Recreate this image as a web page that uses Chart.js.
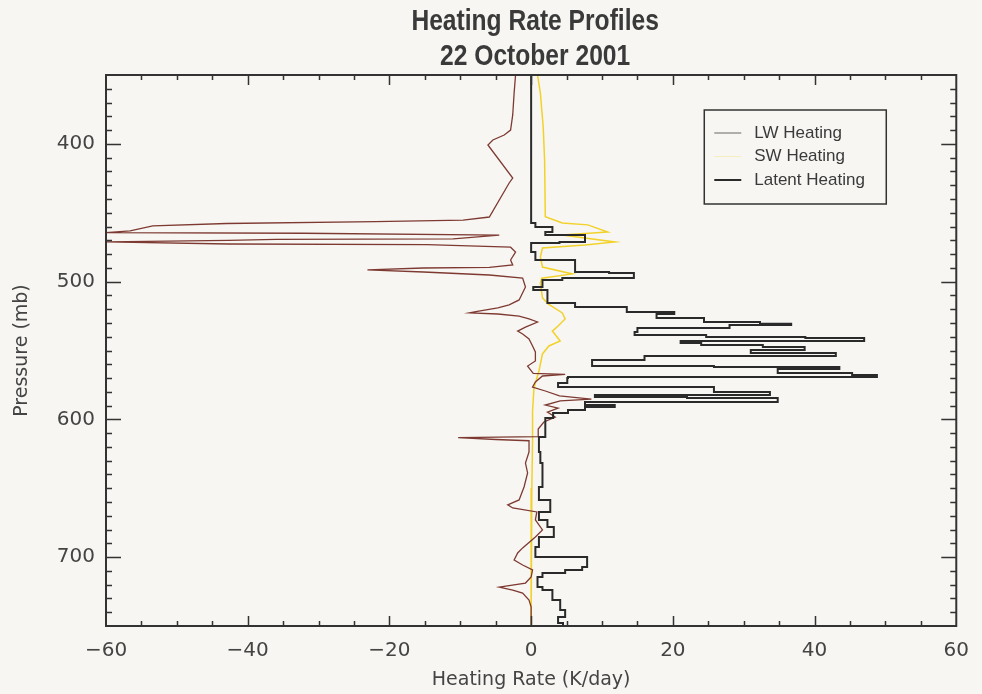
<!DOCTYPE html>
<html>
<head>
<meta charset="utf-8">
<title>Heating Rate Profiles</title>
<script src="https://cdn.jsdelivr.net/npm/chart.js@4.4.1/dist/chart.umd.min.js"></script>
<style>
  html, body { margin: 0; padding: 0; background: #f7f6f2; }
  #wrap { width: 982px; height: 694px; }
</style>
</head>
<body>
<div id="wrap"><canvas id="heatChart" width="982" height="694"></canvas></div>
<script>
// Perfiles de calentamiento, 22 Oct 2001
const titleLines = ['Heating Rate Profiles', '22 October 2001'];
const xTicks = [-60, -40, -20, 0, 20, 40, 60];
const yTicks = [400, 500, 600, 700];

const lwPressure = [350, 363, 379, 390, 393.6, 397.2, 400.8, 424.8, 428.4, 453.1, 455.3, 456.4, 457.8, 459.6,
  463.2, 464.5, 464.9, 466.2, 469, 469.4, 470, 471.2, 472.7, 473.2, 475, 478.5, 484.3, 487.9, 489.6, 490.1,
  491.5, 493, 495.2, 497.4, 503.9, 513.3, 516.9, 519.1, 521.8, 522.7, 523.5, 525, 527.1, 529.3, 533, 535.9,
  538, 541.6, 546.7, 551.1, 557.6, 561.3, 566.6, 567.3, 568.5, 572.9, 576.5, 579.4, 583, 585.3, 586.5, 589.6,
  591.8, 594.7, 598.3, 601.9, 607, 612.5, 613.2, 614.6, 615.5, 623.7, 631.7, 638.9, 649.1, 658.5, 662.1,
  664.3, 667.2, 673, 680.2, 685.4, 693.3, 697, 702.1, 705.7, 709.3, 714.4, 718.8, 721.7, 723.9, 726.1, 731.1,
  736.2, 750];
const lwRate = [-2.2, -2.4, -2.6, -2.9, -3.8, -5.4, -6.1, -2.6, -3.1, -5.9, -9.6, -22, -43, -53.4,
  -56.6, -60, -32.2, -4.5, -11, -36, -42.7, -60, -42.7, -14.7, -2.9, -2.2, -2.9, -2.6, -5.9, -15.2,
  -23.1, -15.2, -5.9, -1.2, -0.8, -1.7, -3.1, -4.7, -7.8, -8.7, -4.7, -1.7, -0.3, 0.9, -0.8, -1.9,
  -1.2, -0.3, 0.2, 0.6, 0.6, -0.5, 0.3, 4.8, 1.6, 0.6, 0.2, 2.0, 4.0, 8.5, 4.1, 2.0,
  3.8, 2.3, 3.4, 1.8, 1.0, 1.0, -10.3, -5.0, -0.3, -0.3, -0.8, -0.5, -1.0, -1.7, -3.3,
  -2.6, 0.8, 0.6, 1.6, 0.6, -1.2, -1.9, -2.4, -1.2, 0.2, 0, -0.8, -4.5, -2.6, -1.2, -0.3,
  0, 0];

const swPressure = [350, 363, 387.6, 411.5, 452.9, 457.4, 458.8, 464, 466.2, 471.2, 473.4, 475.6, 482.1,
  489.4, 494.4, 497.5, 501, 511.8, 516.2, 522.7, 527.1, 532.2, 535.9, 543.1, 546.7, 552.5, 564.9, 577.2,
  593.9, 615.7, 650, 750];
const swRate = [0.9, 1.3, 1.7, 1.9, 2.0, 4.4, 8.0, 10.8, 4.4, 11.8, 7.6, 1.6, 1.3,
  1.6, 5.8, 1.5, 1.3, 1.6, 2.4, 4.4, 4.8, 3.8, 3.0, 4.1, 2.5, 1.6, 1.1, 0.4,
  0.2, 0.2, 0.1, 0.0];

const latentPressure = [350, 457.4, 460.3, 464, 466.2, 471.2, 472, 478.5, 484.3, 493, 493.7, 497.4, 498.8,
  503.9, 506.1, 515.5, 518.4, 522, 523.5, 526.4, 529.3, 530.5, 531.5, 533.7, 536.6, 538.7, 540.2, 540.9,
  543.1, 544.6, 546, 547.5, 549.6, 551.8, 554, 556.9, 561.3, 562, 563.5, 566.3, 567.8, 569.2, 570, 573.6,
  576.5, 580.1, 582.3, 583.8, 584.5, 587.4, 589.6, 591, 593.2, 595.4, 599, 601.9, 612.8, 623.7, 631.7,
  649.1, 658.5, 667.2, 673, 678.1, 685.4, 692.6, 699.9, 707.2, 709.3, 711.5, 714.4, 721.7, 723.9, 731.1,
  738.4, 743.5, 747.8, 750];
const latentRate = [0, 0, 0.6, 3.0, 2.0, 7.6, 4.0, 0.0, 0.6, 6.2, 11, 14.5, 4.4,
  1.6, 0.3, 2.3, 6.2, 13.5, 20.2, 17.7, 24.4, 32.3, 36.7, 28, 15, 14.6, 24.7, 38.7,
  47, 21.1, 24, 32.7, 38.6, 31, 43, 16, 8.6, 25.8, 43.5, 34.8, 45.3, 48.8, 5.2, 5.1,
  3.8, 25.8, 33.7, 9, 22, 34.8, 7.6, 11.8, 7.6, 5.2, 3.1, 2.0, 2.0, 1.1, 1.3,
  1.6, 1.1, 2.7, 1.1, 2.3, 3.2, 1.1, 0.6, 7.9, 7.2, 4.8, 1.6, 0.9, 1.6, 3.0,
  4.1, 4.8, 3.8, 4.5];

function profile(pressure, rate) {
  return pressure.map(function(p, i) { return { x: rate[i], y: p }; });
}

// marco, marcas hacia dentro (estilo IDL), titulo estrecho y leyenda
const frameTicks = {
  id: 'frameTicks',
  afterDatasetsDraw(chart) {
    const ctx = chart.ctx;
    const a = chart.chartArea;
    const xs = chart.scales.x;
    const ys = chart.scales.y;
    ctx.save();
    ctx.strokeStyle = '#333';
    ctx.lineWidth = 1.5;
    ctx.beginPath();
    for (let v = -55; v < 60; v += 5) {
      const px = Math.round(xs.getPixelForValue(v)) + 0.5;
      const len = v % 20 === 0 ? 10 : 5;
      ctx.moveTo(px, a.bottom); ctx.lineTo(px, a.bottom - len);
      ctx.moveTo(px, a.top); ctx.lineTo(px, a.top + len);
    }
    for (let v = 360; v < 750; v += 10) {
      const py = Math.round(ys.getPixelForValue(v)) + 0.5;
      const len = v % 100 === 0 ? 15 : 6;
      ctx.moveTo(a.left, py); ctx.lineTo(a.left + len, py);
      ctx.moveTo(a.right, py); ctx.lineTo(a.right - len, py);
    }
    ctx.stroke();
    ctx.lineWidth = 2;
    ctx.strokeRect(a.left, a.top, a.right - a.left, a.bottom - a.top);
    ctx.restore();
  },
  afterDraw(chart) {
    const ctx = chart.ctx;
    const a = chart.chartArea;

    // titulo en dos lineas, comprimido en horizontal
    ctx.save();
    ctx.fillStyle = '#3a3a3a';
    ctx.font = 'bold 30px "Liberation Sans", Arial, sans-serif';
    ctx.textAlign = 'center';
    ctx.textBaseline = 'alphabetic';
    const cx = (a.left + a.right) / 2 + 4;
    titleLines.forEach(function(line, i) {
      ctx.save();
      ctx.translate(cx, 30 + i * 35);
      ctx.scale(0.82, 1);
      ctx.fillText(line, 0, 0);
      ctx.restore();
    });
    ctx.restore();

    // leyenda dentro del grafico
    const left = a.right - 252, top = a.top + 35, w = 182, h = 94;
    ctx.save();
    ctx.fillStyle = '#f7f6f2';
    ctx.fillRect(left, top, w, h);
    ctx.strokeStyle = '#333';
    ctx.lineWidth = 1.5;
    ctx.strokeRect(left, top, w, h);
    ctx.font = '17px "Liberation Sans", Arial, sans-serif';
    ctx.textBaseline = 'middle';
    chart.data.datasets.forEach(function(ds, i) {
      const cy = top + 23 + i * 23.5;
      ctx.strokeStyle = ds.legendColor;
      ctx.lineWidth = ds.legendWidth;
      ctx.beginPath();
      ctx.moveTo(left + 10, cy); ctx.lineTo(left + 37, cy);
      ctx.stroke();
      ctx.fillStyle = '#3a3a3a';
      ctx.fillText(ds.label, left + 50, cy);
    });
    ctx.restore();
  }
};

Chart.defaults.font.family = '"DejaVu Sans", sans-serif';
Chart.defaults.color = '#444';

const ctx = document.getElementById('heatChart').getContext('2d');
const heatChart = new Chart(ctx, {
  type: 'scatter',
  data: {
    datasets: [
      {
        label: 'LW Heating',
        data: profile(lwPressure, lwRate),
        showLine: true,
        borderColor: '#7e3a32',
        borderWidth: 1.3,
        pointRadius: 0,
        legendColor: '#666',
        legendWidth: 1,
        order: 1
      },
      {
        label: 'SW Heating',
        data: profile(swPressure, swRate),
        showLine: true,
        borderColor: '#f2d22a',
        borderWidth: 1.5,
        pointRadius: 0,
        legendColor: 'rgba(242, 210, 42, 0.25)',
        legendWidth: 1,
        order: 2
      },
      {
        label: 'Latent Heating',
        data: profile(latentPressure, latentRate),
        showLine: true,
        stepped: true,
        borderColor: '#2a2a2a',
        borderWidth: 2,
        pointRadius: 0,
        legendColor: '#2a2a2a',
        legendWidth: 2,
        order: 0
      }
    ]
  },
  options: {
    responsive: false,
    animation: false,
    layout: {
      padding: { left: 0, right: 17, top: 75, bottom: 0 }
    },
    plugins: {
      legend: { display: false },
      tooltip: { enabled: false },
      title: { display: false }
    },
    scales: {
      x: {
        type: 'linear',
        min: -60,
        max: 60,
        afterBuildTicks: function(scale) {
          scale.ticks = xTicks.map(function(v) { return { value: v }; });
        },
        afterFit: function(scale) { scale.height = 68; },
        grid: { display: false, drawTicks: false },
        border: { display: false },
        ticks: {
          padding: 13,
          font: { size: 20 },
          color: '#444',
          maxRotation: 0,
          callback: function(value) {
            return value < 0 ? '\u2212' + Math.abs(value) : String(value);
          }
        },
        title: {
          display: true,
          text: 'Heating Rate (K/day)',
          font: { size: 19 },
          color: '#444',
          padding: { top: 0, bottom: 3 }
        }
      },
      y: {
        type: 'linear',
        reverse: true,
        min: 350,
        max: 750,
        afterBuildTicks: function(scale) {
          scale.ticks = yTicks.map(function(v) { return { value: v }; });
        },
        afterFit: function(scale) { scale.width = 106; },
        grid: { display: false, drawTicks: false },
        border: { display: false },
        ticks: {
          padding: 11,
          font: { size: 20 },
          color: '#444'
        },
        title: {
          display: true,
          text: 'Pressure (mb)',
          font: { size: 19 },
          color: '#444',
          padding: { top: 11, bottom: 0 }
        }
      }
    }
  },
  plugins: [frameTicks]
});
</script>
</body>
</html>
